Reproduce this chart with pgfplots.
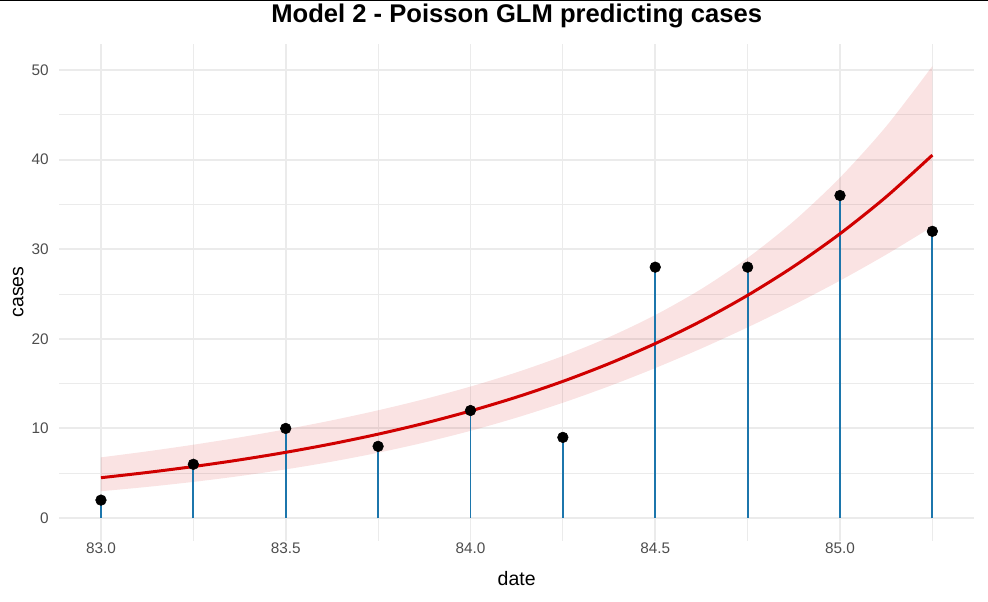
\documentclass[border=0pt]{standalone}
\usepackage{fontspec}
\setmainfont{Liberation Sans}
\usepackage{pgfplots}
\pgfplotsset{compat=1.18}
\usepgfplotslibrary{fillbetween}
\definecolor{gridc}{HTML}{EBEBEB}
\definecolor{tickc}{HTML}{4D4D4D}
\definecolor{fitred}{RGB}{208,0,0}
\definecolor{ribred}{RGB}{205,0,0}
\definecolor{stemc}{RGB}{28,118,172}
\begin{document}
\begin{tikzpicture}
\begin{axis}[
  at={(44.55pt,45.3pt)}, anchor=south west,
  scale only axis, width=685.9pt, height=372.8pt,
  xmin=82.8875, xmax=85.3625, ymin=-2.52, ymax=52.96,
  axis line style={draw=none}, tick style={draw=none},
  xtick={83,83.5,84,84.5,85}, minor xtick={83.25,83.75,84.25,84.75,85.25},
  xticklabels={83.0,83.5,84.0,84.5,85.0},
  ytick={0,10,20,30,40,50}, minor ytick={5,15,25,35,45},
  yticklabels={0,10,20,30,40,50},
  grid=both,
  major grid style={gridc, line width=1.4pt},
  minor grid style={gridc, line width=0.7pt},
  tick label style={font=\fontsize{11.5}{13}\selectfont, text=tickc},
  xticklabel style={anchor=base, yshift=-9.7pt},
  yticklabel style={anchor=east, inner sep=0pt, xshift=-7.8pt},
  every axis title shift=0pt,
  title={Model 2 - Poisson GLM predicting cases},
  title style={at={(0.5,1)}, anchor=base, yshift=15.4pt, font=\bfseries\fontsize{19.2}{22}\selectfont},
  xlabel={date},
  xlabel style={at={(axis description cs:0.5,0)}, anchor=base, yshift=-33.3pt, font=\fontsize{14.6}{17}\selectfont},
  ylabel={cases},
  ylabel style={at={([xshift=-27.1pt]axis description cs:0,0.5)}, anchor=base, font=\fontsize{14.6}{17}\selectfont},
]
\addplot[name path=up, draw=none, smooth, forget plot] coordinates {
(83.0,6.772) (83.125,7.441) (83.25,8.181) (83.375,8.997) (83.5,9.902)
(83.625,10.906) (83.75,12.022) (83.875,13.270) (84.0,14.673) (84.125,16.263)
(84.25,18.082) (84.375,20.189) (84.5,22.657) (84.625,25.572) (84.75,29.032)
(84.875,33.140) (85.0,37.999) (85.125,43.718) (85.25,50.436)};
\addplot[name path=lo, draw=none, smooth, forget plot] coordinates {
(83.0,2.990) (83.125,3.474) (83.25,4.033) (83.375,4.682) (83.5,5.431)
(83.625,6.294) (83.75,7.289) (83.875,8.429) (84.0,9.732) (84.125,11.208)
(84.25,12.868) (84.375,14.713) (84.5,16.737) (84.625,18.929) (84.75,21.284)
(84.875,23.801) (85.0,26.499) (85.125,29.401) (85.25,32.533)};
\addplot[fill=ribred, fill opacity=0.11, draw=none] fill between[of=up and lo];
\addplot[ycomb, stemc, line width=1.4pt, no marks] coordinates {
(83.0,2) (83.25,6) (83.5,10) (83.75,8) (84.0,12) (84.25,9) (84.5,28) (84.75,28) (85.0,36) (85.25,32)};
\addplot[fitred, line width=2.25pt, smooth, no marks] coordinates {
(83.0,4.500) (83.125,5.084) (83.25,5.744) (83.375,6.490) (83.5,7.333)
(83.625,8.285) (83.75,9.361) (83.875,10.576) (84.0,11.950) (84.125,13.501)
(84.25,15.254) (84.375,17.235) (84.5,19.473) (84.625,22.001) (84.75,24.858)
(84.875,28.085) (85.0,31.732) (85.125,35.852) (85.25,40.507)};
\addplot[only marks, mark=*, mark size=4pt, black] coordinates {
(83.0,2) (83.25,6) (83.5,10) (83.75,8) (84.0,12) (84.25,9) (84.5,28) (84.75,28) (85.0,36) (85.25,32)};
\end{axis}
\draw[black, line width=0.75pt] (0,450.375pt) -- (741pt,450.375pt);
\pgfresetboundingbox
\useasboundingbox (0,0) rectangle (741pt,450.75pt);
\end{tikzpicture}
\end{document}
